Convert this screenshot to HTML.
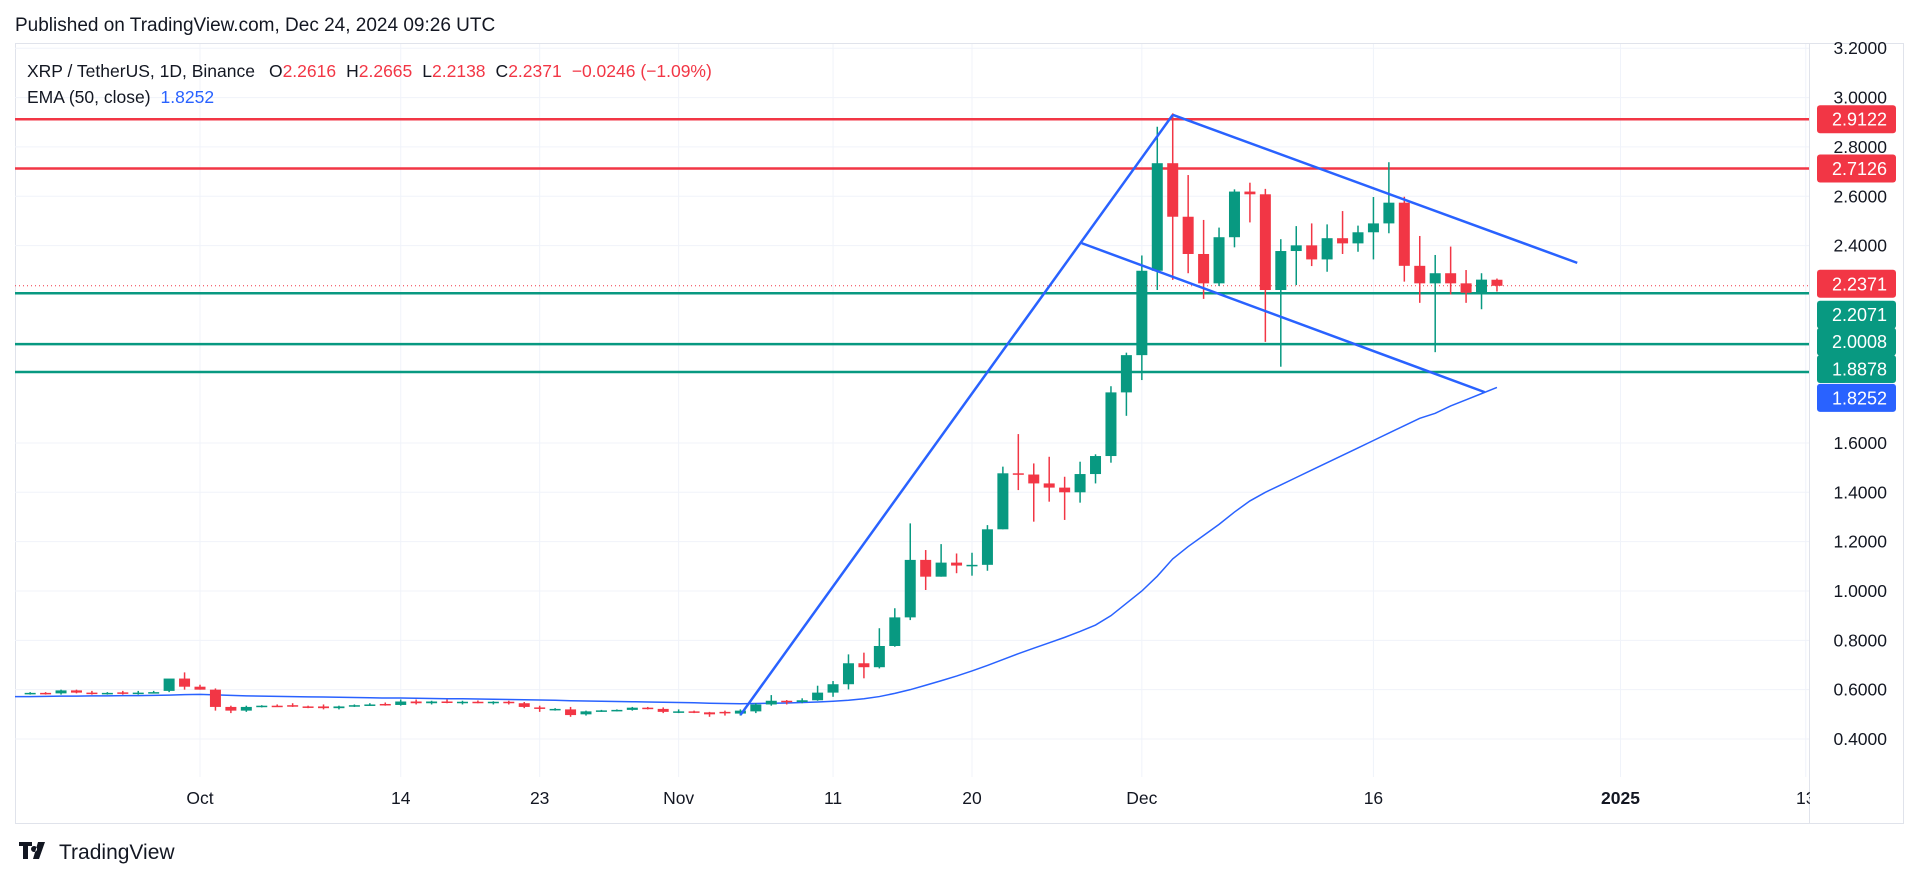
<!DOCTYPE html>
<html><head><meta charset="utf-8"><title>XRP / TetherUS 1D</title>
<style>
html,body{margin:0;padding:0;background:#fff;width:1920px;height:882px;overflow:hidden}
svg{display:block;font-family:"Liberation Sans",sans-serif}
</style></head>
<body>
<svg id="chart" width="1920" height="882" viewBox="0 0 1920 882" xmlns="http://www.w3.org/2000/svg">
<text x="15" y="31" font-size="19" fill="#131722">Published on TradingView.com, Dec 24, 2024 09:26 UTC</text>
<rect x="15.5" y="43.5" width="1888" height="780" fill="none" stroke="#e0e3eb"/>
<line x1="1809.5" y1="43" x2="1809.5" y2="823" stroke="#e0e3eb"/>
<g id="grid"></g>
<g id="levels"></g>
<g id="ema"></g>
<g id="candles"></g>
<g id="trend"></g>
<g id="yaxis"></g>
<g id="xaxis"></g>
<text x="27" y="77" font-size="17.5" fill="#131722">XRP / TetherUS, 1D, Binance<tspan dx="14">O</tspan><tspan fill="#f23645">2.2616</tspan><tspan dx="10">H</tspan><tspan fill="#f23645">2.2665</tspan><tspan dx="10">L</tspan><tspan fill="#f23645">2.2138</tspan><tspan dx="10">C</tspan><tspan fill="#f23645">2.2371</tspan><tspan dx="10" fill="#f23645">−0.0246 (−1.09%)</tspan></text>
<text x="27" y="103" font-size="17.5" fill="#131722">EMA (50, close)<tspan dx="10" fill="#2962ff">1.8252</tspan></text>
<g>
<path d="M19 842h13v4h-4v13h-5v-13h-4z M34 846a3 3 0 1 0 0.1 0z M38 842h7l-6 17h-6z" fill="#131722"/>
<text x="59" y="859" font-size="21" fill="#131722">TradingView</text>
</g>
</svg>
<script>
// ---- data ----
const dates = ["Sep20","Sep21","Sep22","Sep23","Sep24","Sep25","Sep26","Sep27","Sep28","Sep29","Sep30",
"Oct1","Oct2","Oct3","Oct4","Oct5","Oct6","Oct7","Oct8","Oct9","Oct10","Oct11","Oct12","Oct13","Oct14","Oct15","Oct16","Oct17","Oct18","Oct19","Oct20","Oct21","Oct22","Oct23","Oct24","Oct25","Oct26","Oct27","Oct28","Oct29","Oct30","Oct31",
"Nov1","Nov2","Nov3","Nov4","Nov5","Nov6","Nov7","Nov8","Nov9","Nov10","Nov11","Nov12","Nov13","Nov14","Nov15","Nov16","Nov17","Nov18","Nov19","Nov20","Nov21","Nov22","Nov23","Nov24","Nov25","Nov26","Nov27","Nov28","Nov29","Nov30",
"Dec1","Dec2","Dec3","Dec4","Dec5","Dec6","Dec7","Dec8","Dec9","Dec10","Dec11","Dec12","Dec13","Dec14","Dec15","Dec16","Dec17","Dec18","Dec19","Dec20","Dec21","Dec22","Dec23","Dec24"];
const opens = [.585,.587,.585,.597,.588,.585,.589,.583,.590,.595,.645,
.612,.600,.530,.515,.533,.535,.537,.532,.532,.525,.532,.537,.542,.538,.552,.545,.552,.549,.551,.547,.551,.545,.528,.520,.520,.500,.513,.516,.518,.527,.522,
.510,.512,.508,.510,.503,.512,.540,.555,.550,.557,.588,.622,.707,.691,.777,.893,1.126,1.058,1.115,1.100,1.106,1.250,1.477,1.472,1.436,1.419,1.400,1.474,1.547,1.805,
1.956,2.298,2.734,2.517,2.366,2.247,2.434,2.619,2.608,2.220,2.378,2.401,2.344,2.430,2.409,2.454,2.490,2.574,2.318,2.247,2.288,2.247,2.209,2.2616];
const highs = [.590,.590,.600,.600,.595,.590,.595,.595,.595,.600,.670,
.620,.605,.535,.535,.537,.540,.545,.535,.540,.535,.540,.545,.548,.560,.560,.555,.560,.555,.556,.553,.555,.550,.535,.525,.530,.515,.518,.520,.530,.530,.528,
.520,.515,.510,.515,.520,.545,.578,.558,.565,.616,.635,.743,.750,.849,.930,1.274,1.166,1.190,1.152,1.155,1.267,1.504,1.636,1.517,1.544,1.463,1.524,1.554,1.830,1.966,
2.360,2.882,2.936,2.686,2.504,2.473,2.628,2.655,2.630,2.426,2.479,2.490,2.486,2.540,2.481,2.597,2.738,2.598,2.439,2.362,2.396,2.301,2.288,2.2665];
const lows = [.580,.580,.580,.585,.580,.580,.580,.580,.585,.590,.600,
.600,.515,.505,.510,.528,.530,.530,.525,.520,.520,.530,.535,.535,.535,.540,.540,.545,.540,.545,.540,.540,.525,.510,.515,.490,.495,.510,.512,.515,.520,.505,
.505,.505,.490,.495,.495,.505,.535,.540,.545,.555,.571,.601,.646,.686,.774,.882,1.004,1.058,1.072,1.062,1.082,1.250,1.409,1.281,1.362,1.288,1.358,1.436,1.520,1.710,
1.855,2.220,2.261,2.288,2.184,2.236,2.393,2.494,2.010,1.909,2.240,2.317,2.294,2.366,2.375,2.344,2.450,2.254,2.168,1.968,2.202,2.168,2.142,2.2138];
const closes = [.587,.585,.597,.588,.585,.587,.583,.588,.590,.645,.612,
.600,.530,.515,.530,.535,.533,.532,.530,.525,.532,.537,.540,.540,.552,.545,.552,.549,.551,.547,.551,.545,.530,.522,.522,.497,.512,.516,.518,.527,.523,.510,
.512,.508,.500,.505,.515,.540,.555,.550,.557,.588,.622,.707,.691,.777,.893,1.126,1.058,1.115,1.103,1.106,1.250,1.477,1.472,1.436,1.419,1.400,1.474,1.547,1.805,1.956,
2.298,2.734,2.517,2.366,2.247,2.434,2.619,2.608,2.220,2.378,2.401,2.344,2.430,2.409,2.454,2.490,2.574,2.318,2.247,2.288,2.247,2.209,2.262,2.2371];
const emaValues = [.572,.573,.574,.574,.575,.575,.576,.576,.577,.578,.580,
.581,.579,.577,.575,.574,.573,.572,.571,.570,.569,.568,.567,.566,.566,.565,.564,.563,.563,.562,.561,.560,.559,.558,.557,.555,.554,.553,.552,.551,.550,.549,
.548,.547,.545,.544,.543,.544,.545,.546,.548,.550,.553,.557,.563,.572,.585,.600,.618,.636,.655,.676,.698,.722,.746,.768,.790,.812,.836,.862,.900,.950,
1.000,1.060,1.130,1.180,1.225,1.270,1.320,1.365,1.400,1.430,1.460,1.490,1.520,1.550,1.580,1.610,1.640,1.670,1.700,1.720,1.750,1.775,1.800,1.8252];
const priceTicks = [0.4,0.6,0.8,1.0,1.2,1.4,1.6,2.4,2.6,2.8,3.0,3.2];
const priceTickLabels = ["0.4000","0.6000","0.8000","1.0000","1.2000","1.4000","1.6000","2.4000","2.6000","2.8000","3.0000","3.2000"];
const timeTickIdx = [11,24,33,42,52,61,72,87,103,115];
const timeTickLabels = ["Oct","14","23","Nov","11","20","Dec","16","2025","13"];
const redLevels = [2.9122,2.7126];
const greenLevels = [2.2071,2.0008,1.8878];
const lastPrice = 2.2371;
const trendStartIdx = [46,74,68.1];
const trendStartPrice = [0.497,2.93,2.41];
const trendEndIdx = [74,100.2,94.2];
const trendEndPrice = [2.93,2.33,1.806];

// ---- axes ----
const NS="http://www.w3.org/2000/svg";
const X0=15, X1=1809, Y0=44, Y1=777;
function xs(i){return 200+(i-11)*15.44;}
function ys(p){return 739-(p-0.4)*246.7;}
function mk(tag,attrs,parent){const e=document.createElementNS(NS,tag);for(const k in attrs)e.setAttribute(k,attrs[k]);parent.appendChild(e);return e;}
const G=id=>document.getElementById(id);

priceTicks.forEach((p,i)=>{
  const l=mk('line',{x1:X0,x2:X1,y1:ys(p),y2:ys(p),stroke:'#f0f3fa','stroke-width':1},G('grid'));
  
  
  const t=mk('text',{x:1887,y:ys(p)+6,'font-size':17.5,fill:'#131722','text-anchor':'end'},G('yaxis'));
  t.textContent=priceTickLabels[i];
  
  
});
timeTickIdx.forEach((d,i)=>{
  const x=xs(d);
  const l=mk('line',{x1:x,x2:x,y1:Y0,y2:Y1,stroke:'#f0f3fa','stroke-width':1},G('grid'));
  
  
  const t=mk('text',{x:x,y:804,'font-size':17.5,fill:'#131722','text-anchor':'middle','font-weight':timeTickLabels[i]==='2025'?'bold':'normal'},G('xaxis'));
  t.textContent=timeTickLabels[i];
  
  
});
mk('rect',{x:1810,y:780,width:92,height:42,fill:'#fff'},G('xaxis'));

redLevels.forEach(p=>{
  const l=mk('line',{x1:X0,x2:X1,y1:ys(p),y2:ys(p),stroke:'#f23645','stroke-width':2.5},G('levels'));
  
  
});
greenLevels.forEach(p=>{
  const l=mk('line',{x1:X0,x2:X1,y1:ys(p),y2:ys(p),stroke:'#089981','stroke-width':2.5},G('levels'));
  
  
});
{
  const l=mk('line',{x1:X0,x2:X1,y1:ys(lastPrice),y2:ys(lastPrice),stroke:'#f23645','stroke-width':1,'stroke-dasharray':'1 3'},G('levels'));
  
  
}

{
  const pts=emaValues.map((v,i)=>xs(i)+','+ys(v));
  const pl=mk('polyline',{points:'15,'+ys(emaValues[0])+' '+pts.join(' '),fill:'none',stroke:'#2962ff','stroke-width':1.5},G('ema'));
  
  
}

closes.forEach((c,i)=>{
  const o=opens[i],h=highs[i],l=lows[i];
  const col=c>=o?'#089981':'#f23645';
  const x=xs(i);
  const g=mk('g',{},G('candles'));
  
  
  mk('line',{x1:x,x2:x,y1:ys(h),y2:ys(l),stroke:col,'stroke-width':1.5},g);
  const top=ys(Math.max(o,c)),bot=ys(Math.min(o,c));
  mk('rect',{x:x-5.5,y:top,width:11,height:Math.max(1.5,bot-top),fill:col},g);
});

trendStartIdx.forEach((s,i)=>{
  const l=mk('line',{x1:xs(s),y1:ys(trendStartPrice[i]),x2:xs(trendEndIdx[i]),y2:ys(trendEndPrice[i]),stroke:'#2962ff','stroke-width':2.5},G('trend'));
  
  
});

function tag(p,txt,col,yOverride){
  const y=yOverride!==undefined?yOverride:ys(p);
  const g=mk('g',{},G('yaxis'));
  
  
  mk('rect',{x:1817,y:y-14,width:79,height:28,rx:3,fill:col},g);
  const t=mk('text',{x:1887,y:y+6.5,'font-size':18,fill:'#fff','text-anchor':'end'},g);
  t.textContent=txt;
}
tag(2.9122,'2.9122','#f23645');
tag(2.7126,'2.7126','#f23645');
tag(2.2371,'2.2371','#f23645',ys(2.2371)-2);
tag(2.2071,'2.2071','#089981',ys(2.2071)+21.5);
tag(2.0008,'2.0008','#089981',ys(2.0008)-2.5);
tag(1.8878,'1.8878','#089981',ys(1.8878)-3);
tag(1.8252,'1.8252','#2962ff',ys(1.8252)+10.5);
</script>
</body></html>
